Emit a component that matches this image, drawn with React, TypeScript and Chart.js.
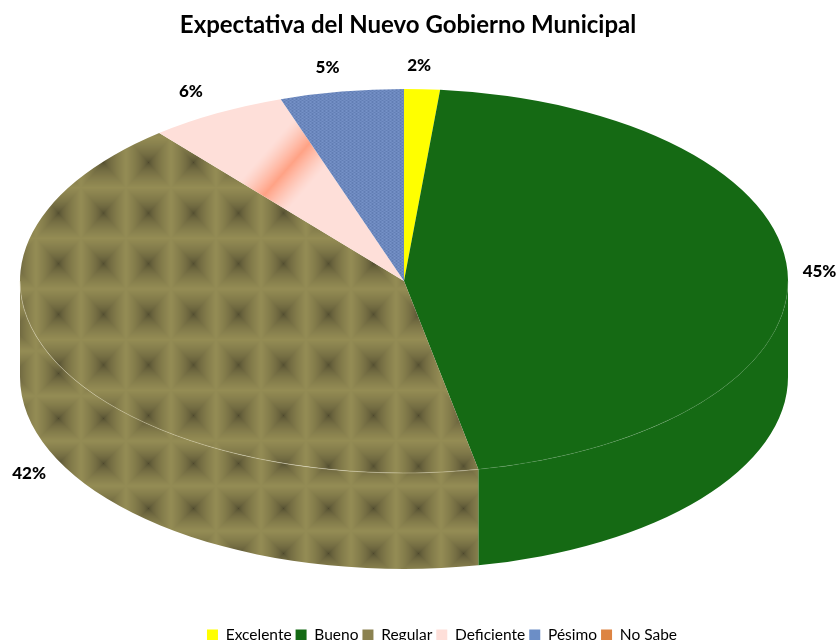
import React, { useEffect, useRef } from "react";
import { Chart, registerables } from "chart.js";

Chart.register(...registerables);

const categories = ["Excelente", "Bueno", "Regular", "Deficiente", "Pésimo", "No Sabe"];
const values = [1.5, 45.4, 42.1, 5.8, 5.2, 0];
const legendColors = ["#ffff00", "#156a14", "#8b8250", "#fedfd9", "#6c8ec6", "#dd8442"];
const chartTitle = "Expectativa del Nuevo Gobierno Municipal";

const W = 838;
const H = 640;
const FONT = "Lato, Carlito, Calibri, sans-serif";
const CENTER_Y = 281; // on screen
const SQUASH = 0.5;
const DEPTH = 96;

function texture(fn: (x: number, y: number) => [number, number, number]) {
  const c = document.createElement("canvas");
  c.width = W;
  c.height = H;
  const g = c.getContext("2d")!;
  const img = g.createImageData(W, H);
  for (let y = 0; y < H; y++) {
    for (let x = 0; x < W; x++) {
      const [r, gg, b] = fn(x, y);
      const i = (y * W + x) * 4;
      img.data[i] = r;
      img.data[i + 1] = gg;
      img.data[i + 2] = b;
      img.data[i + 3] = 255;
    }
  }
  g.putImageData(img, 0, 0);
  return c;
}

function pyramid(x: number, y: number, x0: number, y0: number, px: number, py: number): [number, number, number] {
  const fx = ((x - x0) / px) % 1;
  const fy = ((y - y0) / py) % 1;
  const ux = Math.abs(((fx + 1) % 1) - (((fx + 1) % 1) > 0.5 ? 1 : 0)) * 2;
  const uy = Math.abs(((fy + 1) % 1) - (((fy + 1) % 1) > 0.5 ? 1 : 0)) * 2;
  const raw = Math.max(ux, uy);
  const t = Math.pow(raw, 0.55);
  const dark = [78, 73, 46];
  const light = [148, 140, 84];
  return [
    dark[0] + (light[0] - dark[0]) * t,
    dark[1] + (light[1] - dark[1]) * t,
    dark[2] + (light[2] - dark[2]) * t,
  ];
}

const regularTop = () => texture((x, y) => pyramid(x, y, 58, 162, 45, 50.6));
const regularWall = () => texture((x, y) => pyramid(x, y, 58, 373, 45, 45));
const blueTex = () =>
  texture((x, y) => {
    const k = ((x % 4) + ((y % 3) * 2)) % 4;
    const d = k === 0 ? -10 : k === 2 ? 8 : 0;
    return [108 + d, 136 + d, 190 + d];
  });
const pinkTex = () =>
  texture((x, y) => {
    // distance from the diagonal highlight
    const ax = 307, ay = 145, bx = 265, by = 193;
    const dx = bx - ax, dy = by - ay;
    const len = Math.hypot(dx, dy);
    const dist = Math.abs((x - ax) * dy - (y - ay) * dx) / len;
    const t = Math.max(0, 1 - dist / 28);
    const s = Math.pow(t, 1.3);
    return [254 + s, 223 - 61 * s, 217 - 84 * s];
  });

export default function App() {
  const ref = useRef<HTMLCanvasElement>(null);

  useEffect(() => {
    const ctx = ref.current!.getContext("2d")!;
    const topRegular = ctx.createPattern(regularTop(), "no-repeat")!;
    const wallRegular = ctx.createPattern(regularWall(), "no-repeat")!;
    const topBlue = ctx.createPattern(blueTex(), "no-repeat")!;
    const topPink = ctx.createPattern(pinkTex(), "no-repeat")!;
    const squashed = [topRegular, topBlue, topPink];
    const sliceFills: any[] = ["#ffff00", "#156a14", topRegular, topPink, topBlue, "#dd8442"];
    const wallFills: any[] = ["#ffff00", "#156a14", wallRegular, "#fedfd9", "#6c8ec6", "#dd8442"];

    const nudges: [number, number][] = [
      [-3, -24],
      [32, 0],
      [-28, 110],
      [-26, -22],
      [-14, -24],
      [0, 0],
    ];

    const pie3d = {
      id: "pie3d",
      afterLayout(chart: any) {
        const t = chart.titleBlock;
        if (t) {
          t.left += 4;
          t.right += 4;
        }
        const l = chart.legend;
        if (l) {
          l.left += 38;
          l.right += 38;
          const h = l.bottom - l.top;
          l.top = 638 - h / 2;
          l.bottom = l.top + h;
        }
      },
      beforeDatasetsDraw(chart: any) {
        const c = chart.ctx;
        const arcs = chart.getDatasetMeta(0).data;
        arcs.forEach((arc: any, i: number) => {
          const { x, startAngle, endAngle, outerRadius } = arc.getProps(["x", "startAngle", "endAngle", "outerRadius"], true);
          const a1 = Math.max(startAngle, 0);
          const a2 = Math.min(endAngle, Math.PI);
          if (a2 <= a1) return;
          const ry = outerRadius * SQUASH;
          c.save();
          c.beginPath();
          c.ellipse(x, CENTER_Y, outerRadius, ry, 0, a1, a2, false);
          c.ellipse(x, CENTER_Y + DEPTH, outerRadius, ry, 0, a2, a1, true);
          c.closePath();
          c.fillStyle = wallFills[i];
          c.fill();
          c.restore();
        });
      },
      beforeDatasetDraw(chart: any) {
        const arc = chart.getDatasetMeta(0).data[0];
        const rawY = arc.y;
        const inv = new DOMMatrix([1, 0, 0, 1 / SQUASH, 0, rawY - CENTER_Y / SQUASH]);
        squashed.forEach((p) => p.setTransform(inv));
        const c = chart.ctx;
        c.save();
        c.translate(0, CENTER_Y);
        c.scale(1, SQUASH);
        c.translate(0, -rawY);
      },
      afterDatasetDraw(chart: any) {
        chart.ctx.restore();
      },
      afterDatasetsDraw(chart: any) {
        const c = chart.ctx;
        const arcs = chart.getDatasetMeta(0).data;
        const total = values.reduce((a, b) => a + b, 0);
        arcs.forEach((arc: any, i: number) => {
          const { x, startAngle, endAngle, outerRadius } = arc.getProps(["x", "startAngle", "endAngle", "outerRadius"], true);
          const a1 = Math.max(startAngle, 0);
          const a2 = Math.min(endAngle, Math.PI);
          if (a2 > a1) {
            c.save();
            c.beginPath();
            c.ellipse(x, CENTER_Y, outerRadius, outerRadius * SQUASH, 0, a1, a2, false);
            c.strokeStyle = i === 2 ? "rgba(225,220,185,0.6)" : "rgba(120,170,120,0.35)";
            c.lineWidth = 0.7;
            c.stroke();
            c.restore();
          }
          if (values[i] <= 0) return;
          const mid = (startAngle + endAngle) / 2;
          const px = x + Math.cos(mid) * outerRadius + nudges[i][0];
          const py = CENTER_Y + Math.sin(mid) * outerRadius * SQUASH + nudges[i][1];
          c.save();
          c.font = `900 17px ${FONT}`;
          c.fillStyle = "#000";
          c.textAlign = "center";
          c.textBaseline = "middle";
          c.fillText(`${Math.round((values[i] / total) * 100)}%`, px, py);
          c.restore();
        });
      },
    };

    const chart = new Chart(ctx, {
      type: "pie",
      data: {
        labels: categories,
        datasets: [
          {
            data: values,
            backgroundColor: sliceFills,
            borderWidth: 0,
            hoverOffset: 0,
            clip: false,
          } as any,
        ],
      },
      options: {
        responsive: false,
        animation: false,
        events: [],
        radius: 384,
        layout: { padding: { left: 0, right: 30, top: 0, bottom: 0 } },
        plugins: {
          tooltip: { enabled: false },
          title: {
            display: true,
            text: chartTitle,
            color: "#000",
            font: { family: FONT, size: 24, weight: "bold" },
            padding: { top: 11, bottom: 10 },
          },
          legend: {
            display: true,
            position: "bottom",
            labels: {
              boxWidth: 11,
              boxHeight: 11,
              padding: 4,
              color: "#000",
              font: { family: FONT, size: 15.5 },
              generateLabels(ch: any) {
                const base = (Chart as any).overrides.doughnut.plugins.legend.labels.generateLabels(ch);
                return base.map((it: any, i: number) => ({
                  ...it,
                  fillStyle: legendColors[i],
                  strokeStyle: legendColors[i],
                  lineWidth: 0,
                  hidden: false,
                }));
              },
            },
          },
        },
      } as any,
      plugins: [pie3d],
    });

    return () => chart.destroy();
  }, []);

  return (
    <div style={{ position: "absolute", left: 0, top: 0, width: W, height: H, background: "#fff" }}>
      <canvas ref={ref} width={W} height={H} style={{ display: "block" }} />
    </div>
  );
}
